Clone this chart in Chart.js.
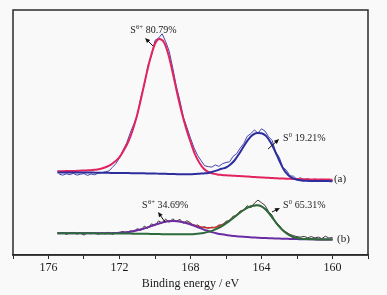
<!DOCTYPE html>
<html><head><meta charset="utf-8">
<script src="https://cdn.jsdelivr.net/npm/chart.js@4/dist/chart.umd.min.js"></script>
<style>html,body{margin:0;padding:0;background:#f9f9f9;}canvas{display:block}</style>
</head><body>
<canvas id="c" width="387" height="295"></canvas>
<script>
// Binding energies (eV) of the fitted curves
const fitEnergy = [175.5,175.25,175,174.75,174.5,174.25,174,173.75,173.5,173.25,173,172.75,172.5,172.25,172,171.75,171.5,171.25,171,170.75,170.5,170.25,170,169.75,169.5,169.25,169,168.75,168.5,168.25,168,167.75,167.5,167.25,167,166.75,166.5,166.25,166,165.75,165.5,165.25,165,164.75,164.5,164.25,164,163.75,163.5,163.25,163,162.75,162.5,162.25,162,161.75,161.5,161.25,161,160.75,160.5,160.25,160];
// (a) background, S6+ and S0 components (intensity, a.u.)
const bgA = [82.5,82.5,82.5,82.5,82.5,82.5,82.5,82.4,82.4,82.3,82.2,82.2,82.1,82.1,82.0,81.9,81.9,81.8,81.7,81.6,81.5,81.4,81.2,81.1,80.9,80.7,80.5,80.3,80.1,79.9,79.7,79.5,79.4,79.2,79.0,78.8,78.6,78.4,78.2,78.0,77.7,77.5,77.2,76.9,76.6,76.3,76.0,75.8,75.5,75.3,75.0,74.9,74.7,74.6,74.4,74.3,74.2,74.1,74.0,74.0,73.9,73.9,73.8];
const s6A = [1.2,1.3,1.4,1.5,1.6,1.8,2.0,2.3,2.7,3.3,4.3,5.8,8.1,11.4,15.8,23,31.6,43.5,58.8,77.6,97.8,116,130,135,132,120,101.5,81.5,63,47,33.5,21.3,12.8,7,4,2.6,2.0,1.7,1.5,1.5,1.5,1.5,1.5,1.5,1.5,1.5,1.5,1.5,1.5,1.5,1.5,1.5,1.5,1.5,1.5,1.5,1.5,1.5,1.5,1.5,1.5,1.5,1.5];
const s0A = [0,0,0,0,0,0,0,0,0,0,0,0,0,0,0,0,0,0,0,0.1,0.1,0.15,0.2,0.25,0.3,0.35,0.45,0.55,0.7,0.9,1.15,1.45,1.9,2.4,3.1,4.4,6.0,7.8,9.3,12.5,17.3,24,31.5,38.5,43.5,45.8,45.7,43.3,37.5,29,19.5,10.5,5.2,2.2,0.9,0.3,0.1,0,0,0,0,0,0];
// (b) background, S6+ and S0 components
const bgB = [21.7,21.7,21.7,21.7,21.7,21.7,21.7,21.7,21.65,21.6,21.6,21.6,21.55,21.5,21.5,21.45,21.4,21.35,21.3,21.2,21.15,21.1,21.0,20.9,20.85,20.8,20.7,20.6,20.55,20.5,20.4,20.3,20.15,20.0,19.9,19.7,19.5,19.3,19.1,18.85,18.6,18.35,18.1,17.85,17.6,17.35,17.1,16.9,16.75,16.6,16.4,16.3,16.15,16.0,15.9,15.8,15.7,15.65,15.6,15.55,15.5,15.45,15.4];
const s6B = [0,0,0,0,0,0,0,0,0.02,0.04,0.07,0.13,0.23,0.4,0.65,1.05,1.6,2.4,3.4,4.6,6.0,7.6,9.3,10.7,12.0,12.85,13.3,13.1,12.5,11.5,10.1,8.6,7.0,5.4,4.1,2.9,2.0,1.35,0.85,0.55,0.3,0.18,0.1,0.05,0,0,0,0,0,0,0,0,0,0,0,0,0,0,0,0,0,0,0];
const s0B = [0,0,0,0,0,0,0,0,0,0,0,0,0,0,0,0,0,0,0,0,0,0,0,0,0,0,0.03,0.07,0.14,0.25,0.45,0.78,1.3,2.1,3.2,4.7,6.8,9.4,12.5,16.0,19.7,23.5,26.9,29.7,31.6,32.5,31.6,28.3,23.2,17.4,12.0,7.6,4.4,2.3,1.1,0.5,0.2,0.08,0.03,0,0,0,0];
// Measured spectra
const rawEnergy = [175.4,175.2,175.0,174.8,174.6,174.4,174.2,174.0,173.8,173.6,
  173.4,173.2,173.0,172.8,172.6,172.4,172.2,172.0,171.8,171.6,
  171.4,171.2,171.0,170.8,170.6,170.4,170.2,170.0,169.8,169.6,
  169.4,169.2,169.0,168.8,168.6,168.4,168.2,168.0,167.8,167.6,
  167.4,167.2,167.0,166.8,166.6,166.4,166.2,166.0,165.8,165.6,
  165.4,165.2,165.0,164.8,164.6,164.4,164.2,164.0,163.8,163.6,
  163.4,163.2,163.0,162.8,162.6,162.4,162.2,162.0,161.8,161.6,
  161.4,161.2,161.0,160.8,160.6,160.4,160.2,160.0];
const rawA = [80.9,79.8,81.2,80.3,81.6,79.9,80.7,81.4,79.6,81.0,
  80.2,81.9,82.3,83.2,84.1,87.6,91.4,97.1,104.9,111.8,
  121.9,130.6,139.2,157.8,170.3,189.4,199.1,214.6,216.9,221.2,
  213.5,203.8,187.1,168.9,154.6,137.9,127.6,116.8,107.1,99.6,
  94.3,89.2,88.4,87.9,90.1,88.6,91.3,92.5,93.2,98.6,
  101.3,106.9,111.5,118.8,121.4,125.1,121.8,126.2,123.9,118.2,
  114.6,102.9,97.7,87.6,84.9,79.2,78.8,75.6,77.4,74.6,
  76.3,74.2,76.1,74.6,75.9,73.9,75.8,74.5];
const rawB = [21.3,22.4,20.6,21.9,22.6,20.9,21.8,19.9,22.3,21.2,
  22.0,20.8,21.9,21.1,22.7,20.5,22.4,22.6,23.6,21.5,
  24.2,23.1,26.4,24.8,28.9,26.6,31.2,29.4,34.1,31.8,
  35.9,32.6,36.2,33.4,35.8,31.7,34.3,32.2,29.0,30.1,
  27.4,28.3,26.6,27.9,27.2,30.1,29.6,33.8,34.1,38.9,
  39.0,44.1,44.6,49.3,47.2,51.8,54.9,52.3,49.6,43.4,
  39.8,32.1,29.7,24.6,22.8,20.6,19.4,18.3,17.9,18.6,
  17.2,18.4,17.1,17.9,16.4,18.8,16.9,17.6];
const xTickLabels = [176,172,168,164,160];

const pts = (xs, ys) => xs.map((x, i) => ({x, y: ys[i]}));
const add = (...arrs) => arrs[0].map((_, i) => arrs.reduce((s, a) => s + a[i], 0));

const FONT = '"Liberation Serif", "Times New Roman", serif';

const notes = [
  {parts: ['S', '6+', ' 80.79%'], x: 171.4, y: 225},
  {parts: ['S', '0', ' 19.21%'], x: 162.79, y: 117},
  {parts: ['S', '6+', ' 34.69%'], x: 170.73, y: 50},
  {parts: ['S', '0', ' 65.31%'], x: 162.79, y: 50}
];
const arrows = [
  {from: [170.11, 209], to: [170.56, 217]},
  {from: [163.63, 106], to: [163.01, 116]},
  {from: [169.44, 33], to: [169.83, 43]},
  {from: [163.41, 43], to: [162.96, 47]}
];
const tags = [{t: '(a)', x: 159.58, y: 76}, {t: '(b)', x: 159.41, y: 16}];

const decor = {
  id: 'decor',
  beforeDraw(chart) {
    const c = chart.ctx;
    c.save(); c.fillStyle = '#f9f9f9'; c.fillRect(0, 0, chart.width, chart.height); c.restore();
  },
  afterDatasetsDraw(chart) {
    const c = chart.ctx, a = chart.chartArea, xs = chart.scales.x, ys = chart.scales.y;
    c.save();
    c.strokeStyle = '#2a2a2a'; c.lineWidth = 1.5;
    c.strokeRect(a.left, a.top, a.right - a.left, a.bottom - a.top);
    c.fillStyle = '#1a1a1a'; c.textBaseline = 'middle'; c.textAlign = 'left';
    for (const n of notes) {
      let px = xs.getPixelForValue(n.x); const py = ys.getPixelForValue(n.y);
      c.font = '10px ' + FONT; c.fillText(n.parts[0], px, py); px += c.measureText(n.parts[0]).width;
      c.font = '6.5px ' + FONT; c.fillText(n.parts[1], px + 0.3, py - 3); px += c.measureText(n.parts[1]).width + 0.5;
      c.font = '10px ' + FONT; c.fillText(n.parts[2], px, py);
    }
    c.strokeStyle = '#111'; c.fillStyle = '#111'; c.lineWidth = 1;
    for (const ar of arrows) {
      const x1 = xs.getPixelForValue(ar.from[0]), y1 = ys.getPixelForValue(ar.from[1]);
      const x2 = xs.getPixelForValue(ar.to[0]), y2 = ys.getPixelForValue(ar.to[1]);
      const ang = Math.atan2(y2 - y1, x2 - x1), L = 5, W = 2.2;
      c.beginPath(); c.moveTo(x1, y1); c.lineTo(x2 - Math.cos(ang) * L * 0.8, y2 - Math.sin(ang) * L * 0.8); c.stroke();
      c.beginPath(); c.moveTo(x2, y2);
      c.lineTo(x2 - Math.cos(ang) * L - Math.sin(ang) * W, y2 - Math.sin(ang) * L + Math.cos(ang) * W);
      c.lineTo(x2 - Math.cos(ang) * L + Math.sin(ang) * W, y2 - Math.sin(ang) * L - Math.cos(ang) * W);
      c.closePath(); c.fill();
    }
    c.font = '11px ' + FONT; c.fillStyle = '#1a1a1a';
    for (const t of tags) c.fillText(t.t, xs.getPixelForValue(t.x) - 6, ys.getPixelForValue(t.y));
    c.restore();
  }
};

const line = (data, color, width, order) => ({
  data, borderColor: color, borderWidth: width, pointRadius: 0, fill: false,
  cubicInterpolationMode: 'monotone', order
});

new Chart(document.getElementById('c'), {
  type: 'line',
  data: {
    datasets: [
      line(pts(fitEnergy, add(bgA, s0A)), '#2d2d9e', 2, 0),
      line(pts(fitEnergy, add(bgA, s6A)), '#e2245e', 2, 1),
      {...line(pts(rawEnergy, rawA), '#4444b0', 1, 2), cubicInterpolationMode: 'default', tension: 0},
      line(pts(fitEnergy, add(bgB, s0B)), '#2b6b3c', 2, 3),
      line(pts(fitEnergy, add(bgB, s6B)), '#6a2ea4', 2, 4),
      line(pts(fitEnergy, add(bgB, s6B, s0B)), '#c8342c', 1.5, 5),
      {...line(pts(rawEnergy, rawB), '#3a3a3a', 1, 6), cubicInterpolationMode: 'default', tension: 0}
    ]
  },
  options: {
    responsive: false, animation: false, devicePixelRatio: 1,
    layout: {padding: {left: 13, right: 19, top: 10, bottom: 0}},
    plugins: {legend: {display: false}, tooltip: {enabled: false}},
    scales: {
      x: {
        type: 'linear', reverse: true, min: 158, max: 178,
        afterFit: s => { s.height = 40; },
        ticks: {
          stepSize: 2, autoSkip: false, maxRotation: 0, padding: 2, color: '#1a1a1a',
          font: {family: FONT, size: 12},
          callback: v => xTickLabels.includes(v) ? String(v) : ''
        },
        grid: {drawOnChartArea: false, drawTicks: true, tickLength: 4, color: '#2a2a2a', lineWidth: 1},
        border: {display: true, color: '#2a2a2a', width: 1.5},
        title: {display: true, text: 'Binding energy / eV', color: '#1a1a1a', font: {family: FONT, size: 12}, padding: {top: 2, bottom: 4}}
      },
      y: {display: false, min: 0, max: 245}
    }
  },
  plugins: [decor]
});
</script>
</body></html>
